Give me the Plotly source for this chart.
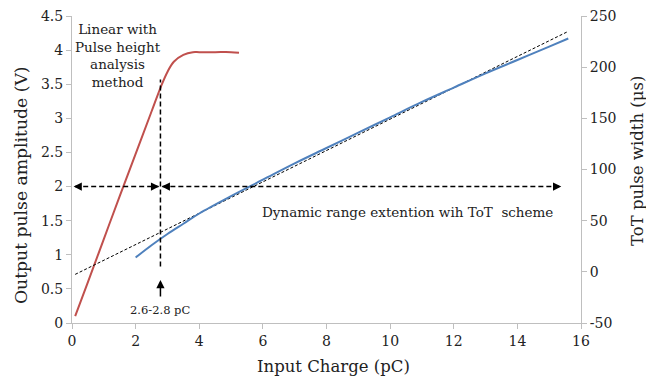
import plotly.graph_objects as go

# Red curve: output pulse amplitude (V), left axis
red_x = [0.1, 0.5, 1.0, 1.5, 2.0, 2.5, 2.8, 3.0, 3.2, 3.5, 3.8, 4.0, 4.5, 5.0, 5.25]
red_y = [0.1, 0.6, 1.23, 1.86, 2.48, 3.1, 3.47, 3.68, 3.83, 3.93, 3.97, 3.97, 3.97, 3.97, 3.96]

# Blue curve: ToT pulse width (us), right axis
blue_x = [2.0, 2.5, 3.0, 3.5, 4.0, 5.0, 6.0, 7.0, 8.0, 9.0, 10.0, 11.0, 12.0, 13.0, 14.0, 15.0, 15.6]
blue_y = [14, 26, 37, 47, 57, 74, 90, 106, 121, 136, 151, 166, 180, 194, 207, 220, 228]

# Linear fit (dashed), right axis
fit_x = [0.1, 15.6]
fit_y = [-2.5, 235]

x_ticks = [0, 2, 4, 6, 8, 10, 12, 14, 16]
left_ticks = [0, 0.5, 1, 1.5, 2, 2.5, 3, 3.5, 4, 4.5]
right_ticks = [-50, 0, 50, 100, 150, 200, 250]
right_tick_text = ["-50", "0", "50", "100", "150", "200", "250"]

FONT = "DejaVu Serif"
AXC = "#bfbfbf"
W, H = 646, 381
ML, MR, MT, MB = 72, 65, 16, 58
PW = W - ML - MR
PH = H - MT - MB

fig = go.Figure()
fig.add_trace(go.Scatter(x=red_x, y=red_y, mode="lines", line=dict(color="#C0504D", width=2),
                         line_shape="spline", showlegend=False, hoverinfo="skip"))
fig.add_trace(go.Scatter(x=fit_x, y=fit_y, mode="lines", yaxis="y2",
                         line=dict(color="black", width=1, dash="3px,2px"), showlegend=False, hoverinfo="skip"))
fig.add_trace(go.Scatter(x=blue_x, y=blue_y, mode="lines", yaxis="y2", line=dict(color="#4F81BD", width=2),
                         line_shape="spline", showlegend=False, hoverinfo="skip"))

# dashed guide lines
fig.add_shape(type="line", x0=0.1, x1=2.72, y0=2, y1=2, xref="x", yref="y",
              line=dict(color="black", width=1.5, dash="5px,3px"))
fig.add_shape(type="line", x0=2.84, x1=15.3, y0=2, y1=2, xref="x", yref="y",
              line=dict(color="black", width=1.5, dash="5px,3px"))
fig.add_shape(type="line", x0=2.78, x1=2.78, y0=0.83, y1=3.57, xref="x", yref="y",
              line=dict(color="black", width=1.5, dash="5px,3px"))

# arrow heads
def head(x, y, ax, ay):
    fig.add_annotation(x=x, y=y, xref="x", yref="y", ax=ax, ay=ay, text="", showarrow=True,
                       arrowhead=2, arrowsize=1.1, arrowwidth=1.5, arrowcolor="black")

head(0.05, 2, 8, 0)
head(2.74, 2, -8, 0)
head(2.82, 2, 8, 0)
head(15.38, 2, -8, 0)
head(2.78, 0.63, 0, 18)

# text annotations
fig.add_annotation(x=1.45, y=4.45, xref="x", yref="y", yanchor="top", showarrow=False,
                   text="Linear with<br>Pulse height<br>analysis<br>method",
                   font=dict(family=FONT, size=13.5, color="#222"))
fig.add_annotation(x=10.54, y=1.63, xref="x", yref="y", showarrow=False,
                   text="Dynamic range extention wih ToT  scheme",
                   font=dict(family=FONT, size=13.5, color="#222"))
fig.add_annotation(x=2.76, y=0.19, xref="x", yref="y", showarrow=False,
                   text="2.6-2.8 pC", font=dict(family=FONT, size=11.5, color="#222"))

# axis titles (positions given in pixels, converted to paper coordinates)
fig.add_annotation(x=(21 - ML) / PW, y=(H - MB - 185) / PH, xref="paper", yref="paper", showarrow=False,
                   textangle=-90, xanchor="center", yanchor="middle",
                   text="Output pulse amplitude (V)", font=dict(family=FONT, size=17.2, color="#222"))
fig.add_annotation(x=(333 - ML) / PW, y=-(366 - (H - MB)) / PH, xref="paper", yref="paper", showarrow=False,
                   xanchor="center", yanchor="middle",
                   text="Input Charge (pC)", font=dict(family=FONT, size=16.5, color="#222"))
fig.add_annotation(x=(637 - ML) / PW, y=(H - MB - 161) / PH, xref="paper", yref="paper", showarrow=False,
                   textangle=-90, xanchor="center", yanchor="middle",
                   text="ToT pulse width (\u03bcs)", font=dict(family=FONT, size=16.5, color="#222"))

axis_common = dict(showgrid=False, zeroline=False, showline=True, linecolor=AXC, linewidth=1,
                   ticks="outside", ticklen=5, tickcolor=AXC, automargin=False,
                   tickfont=dict(family=FONT, size=14, color="#222"))

fig.update_layout(
    width=W, height=H, margin=dict(l=ML, r=MR, t=MT, b=MB, autoexpand=False),
    plot_bgcolor="white", paper_bgcolor="white", showlegend=False,
    font=dict(family=FONT, size=14, color="#222"),
    xaxis=dict(range=[0, 16], tickvals=x_ticks, **axis_common),
    yaxis=dict(range=[0, 4.5], tickvals=left_ticks, **axis_common),
    yaxis2=dict(range=[-50, 250], tickvals=right_ticks, ticktext=right_tick_text,
                overlaying="y", side="right", **axis_common),
)

fig.write_html("out.html", config={"displayModeBar": False})

# remove the default 8px body margin so the figure fills the window exactly
with open("out.html", "r", encoding="utf-8") as f:
    html = f.read()
html = html.replace("<body>", '<body style="margin:0;padding:0;overflow:hidden">', 1)
with open("out.html", "w", encoding="utf-8") as f:
    f.write(html)
